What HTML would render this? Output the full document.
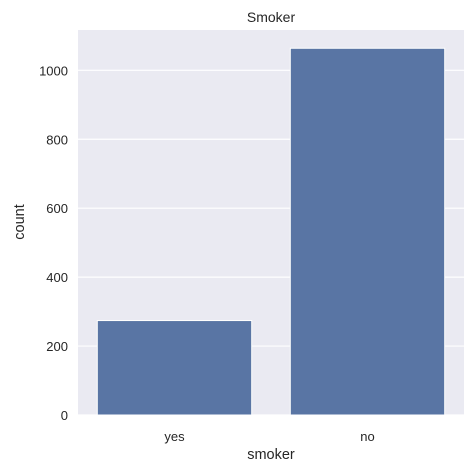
<!DOCTYPE html>
<html><head><meta charset="utf-8"><style>
html,body{margin:0;padding:0;background:#fff;font-family:"Liberation Sans","DejaVu Sans",sans-serif;overflow:hidden}
svg{display:block}
</style></head><body>
<svg id="chart" width="475" height="473" xmlns="http://www.w3.org/2000/svg">
<rect x="0" y="0" width="475" height="473" fill="#fff"/>
<rect x="78" y="30" width="386" height="385" fill="#eaeaf2"/>
<g id="grid"></g>
<g id="bars"></g>
<g id="yticks" font-size="13" fill="#262626" text-anchor="end"></g>
<g id="xticks" font-size="13" fill="#262626" text-anchor="middle"></g>
<text x="271" y="22" font-size="14" text-anchor="middle" fill="#262626">Smoker</text>
<text x="271" y="459" font-size="14.5" text-anchor="middle" fill="#262626">smoker</text>
<text x="24" y="222" font-size="14.5" text-anchor="middle" fill="#262626" transform="rotate(-90 24 222)">count</text>
</svg>
<script>
const categories = ["yes", "no"];
const counts = [274, 1064];
const yTickValues = [0, 200, 400, 600, 800, 1000];

const plotLeft = 78, plotRight = 464, plotTop = 30, plotBottom = 415;
const yMax = 1117;
const ns = "http://www.w3.org/2000/svg";
function yScale(v){ return plotBottom - v / yMax * (plotBottom - plotTop); }
const band = (plotRight - plotLeft) / categories.length;
function xCenter(i){ return plotLeft + band * (i + 0.5); }

const grid = document.getElementById('grid');
const yt = document.getElementById('yticks');
yTickValues.forEach(v => {
  const l = document.createElementNS(ns, 'line');
  
  
  l.setAttribute('x1', plotLeft); l.setAttribute('x2', plotRight);
  l.setAttribute('y1', yScale(v)); l.setAttribute('y2', yScale(v));
  l.setAttribute('stroke', '#fff'); l.setAttribute('stroke-width', '1.2');
  grid.appendChild(l);
  const t = document.createElementNS(ns, 'text');
  
  
  t.setAttribute('x', plotLeft - 10); t.setAttribute('y', yScale(v) + 5);
  t.textContent = v;
  yt.appendChild(t);
});
const bars = document.getElementById('bars');
const xt = document.getElementById('xticks');
categories.forEach((c, i) => {
  const w = band * 0.8;
  const r = document.createElementNS(ns, 'rect');
  
  
  r.setAttribute('x', xCenter(i) - w / 2);
  r.setAttribute('y', yScale(counts[i]));
  r.setAttribute('width', w);
  r.setAttribute('height', plotBottom - yScale(counts[i]));
  r.setAttribute('fill', '#5975a4');
  r.setAttribute('stroke', '#fff'); r.setAttribute('stroke-width', '1');
  bars.appendChild(r);
  const t = document.createElementNS(ns, 'text');
  
  
  t.setAttribute('x', xCenter(i)); t.setAttribute('y', plotBottom + 26);
  t.textContent = c;
  xt.appendChild(t);
});
</script>
</body></html>
